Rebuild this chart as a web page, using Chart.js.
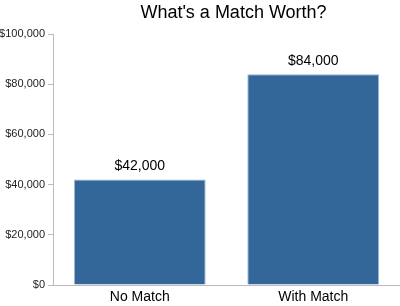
<!DOCTYPE html>
<html>
<head>
<meta charset="utf-8">
<script src="https://cdn.jsdelivr.net/npm/chart.js@4"></script>
<style>
html,body{margin:0;padding:0;background:#fff;}
#wrap{width:400px;height:306px;}
</style>
</head>
<body>
<div id="wrap"><canvas id="c" width="400" height="306"></canvas></div>
<script>
const categories = ["No Match", "With Match"];
const values = [42000, 84000];
const yTicks = [0, 20000, 40000, 60000, 80000, 100000];
const titleText = "What's a Match Worth?";

const fmt = v => "$" + v.toLocaleString("en-US");

const titlePlugin = {
  id: "customTitle",
  afterDraw(chart) {
    const ctx = chart.ctx, a = chart.chartArea;
    ctx.save();
    ctx.font = "18px 'Liberation Sans', Arial, sans-serif";
    ctx.fillStyle = "#000";
    ctx.textAlign = "center";
    ctx.textBaseline = "middle";
    ctx.fillText(titleText, (a.left + a.right) / 2 + 7, 13);
    ctx.restore();
  }
};

const labelPlugin = {
  id: "barLabels",
  afterDatasetsDraw(chart) {
    const ctx = chart.ctx;
    const meta = chart.getDatasetMeta(0);
    ctx.save();
    ctx.font = "14px 'Liberation Sans', Arial, sans-serif";
    ctx.fillStyle = "#000";
    ctx.textAlign = "center";
    ctx.textBaseline = "bottom";
    meta.data.forEach((bar, i) => {
      ctx.fillText(fmt(values[i]), bar.x, bar.y - 6);
    });
    ctx.restore();
  }
};

new Chart(document.getElementById("c"), {
  type: "bar",
  data: {
    labels: categories,
    datasets: [{
      data: values,
      backgroundColor: "#336699",
      borderColor: "#9db9dc",
      borderWidth: 1,
      categoryPercentage: 1.0,
      barPercentage: 0.76
    }]
  },
  options: {
    responsive: false,
    animation: false,
    devicePixelRatio: 1,
    layout: { padding: { top: 34, right: 0, left: 0, bottom: 0 } },
    plugins: {
      legend: { display: false },
      title: { display: false },
      tooltip: { enabled: false }
    },
    scales: {
      x: {
        afterFit(axis) { axis.height = 21; },
        grid: { display: false, drawTicks: false },
        border: { display: true, color: "#bbbbbb", width: 1 },
        ticks: {
          color: "#000",
          font: { family: "'Liberation Sans', Arial, sans-serif", size: 14 },
          padding: 4
        }
      },
      y: {
        min: 0,
        max: 100000,
        afterBuildTicks(axis) { axis.ticks = yTicks.map(v => ({ value: v })); },
        afterFit(axis) { axis.width = 53; },
        grid: { drawOnChartArea: false, drawTicks: true, tickLength: 5, color: "#bbbbbb" },
        border: { display: true, color: "#bbbbbb", width: 1 },
        ticks: {
          color: "#222",
          font: { family: "'Liberation Sans', Arial, sans-serif", size: 11 },
          padding: 3,
          callback: v => fmt(v)
        }
      }
    }
  },
  plugins: [titlePlugin, labelPlugin]
});
</script>
</body>
</html>
